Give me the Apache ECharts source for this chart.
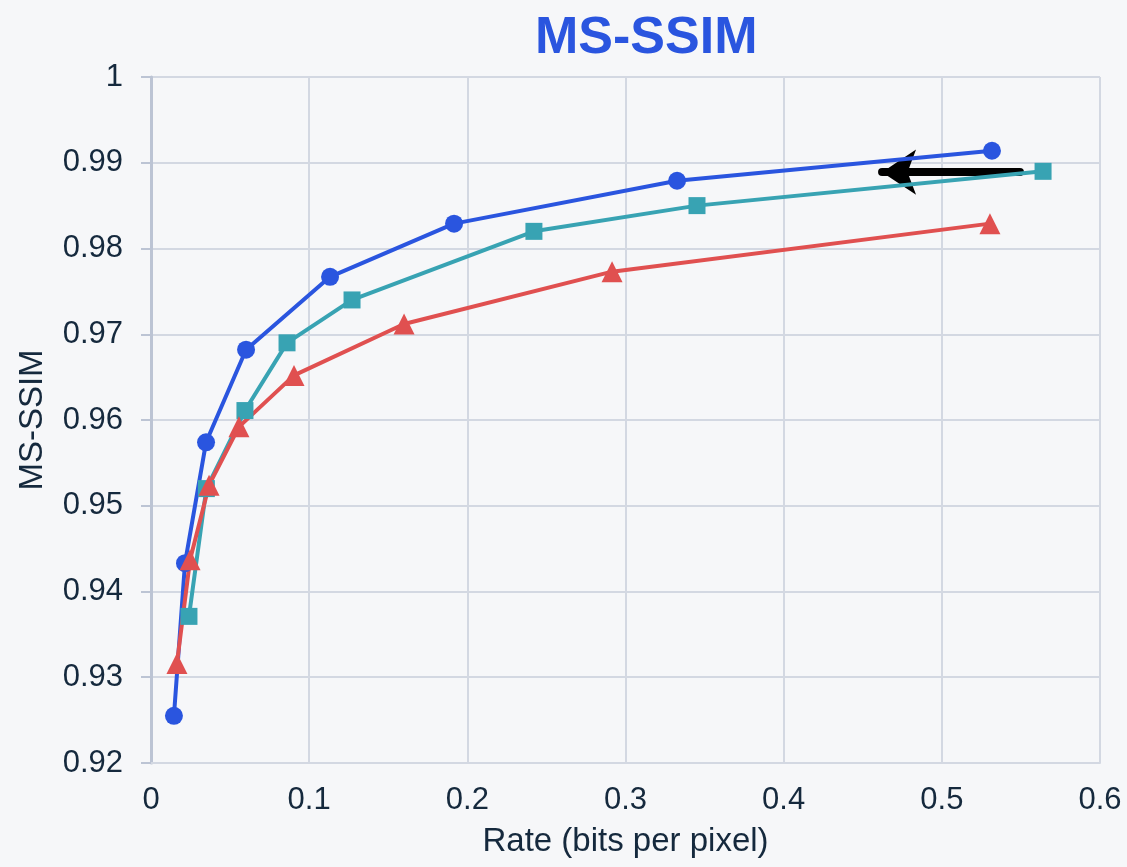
<!DOCTYPE html>
<html>
<head>
<meta charset="UTF-8">
<title>MS-SSIM</title>
<script src="https://cdn.jsdelivr.net/npm/echarts@6/dist/echarts.min.js"></script>
<style>
  html, body { margin: 0; padding: 0; background: #f6f7f9; }
  #chart { width: 1127px; height: 867px; }
</style>
</head>
<body>
<div id="chart"></div>
<script>
  // data
  const blueX = [0.0145, 0.0215, 0.0348, 0.0601, 0.1132, 0.1916, 0.3326, 0.5317];
  const blueY = [0.9255, 0.9433, 0.9574, 0.9682, 0.9767, 0.9829, 0.9879, 0.9914];
  const tealX = [0.0240, 0.0350, 0.0594, 0.0860, 0.1271, 0.2421, 0.3452, 0.5640];
  const tealY = [0.9371, 0.9520, 0.9611, 0.9690, 0.9740, 0.9820, 0.9850, 0.9890];
  const redX = [0.0164, 0.0247, 0.0367, 0.0556, 0.0904, 0.1600, 0.2915, 0.5304];
  const redY = [0.9316, 0.9437, 0.9524, 0.9592, 0.9652, 0.9712, 0.9773, 0.9829];
  const arrowFrom = [0.5494, 0.9889];
  const arrowTo = [0.4622, 0.9889];

  const zip = (xs, ys) => xs.map((x, i) => [x, ys[i]]);
  const textColor = '#15293d';

  const chart = echarts.init(document.getElementById('chart'));
  chart.setOption({
    backgroundColor: '#f6f7f9',
    animation: false,
    title: {
      text: 'MS-SSIM',
      left: 530,
      top: 8,
      textStyle: { color: '#2a55df', fontSize: 52, fontWeight: 'bold', fontFamily: 'Liberation Sans' }
    },
    grid: { left: 151, right: 27, top: 77, bottom: 104 },
    xAxis: {
      type: 'value',
      min: 0, max: 0.6, interval: 0.1,
      name: 'Rate (bits per pixel)',
      nameLocation: 'middle',
      nameGap: 62,
      nameTextStyle: { color: textColor, fontSize: 33, fontFamily: 'Liberation Sans' },
      axisLine: { show: true, lineStyle: { color: '#d3d8e2', width: 2 } },
      axisTick: { show: false },
      axisLabel: { color: textColor, fontSize: 31, margin: 22, fontFamily: 'Liberation Sans' },
      splitLine: { show: true, lineStyle: { color: '#d3d8e2', width: 2 } }
    },
    yAxis: {
      type: 'value',
      min: 0.92, max: 1, interval: 0.01,
      name: 'MS-SSIM',
      nameLocation: 'middle',
      nameGap: 102,
      nameTextStyle: { color: textColor, fontSize: 33, fontFamily: 'Liberation Sans' },
      axisLine: { show: true, lineStyle: { color: '#bcc4d4', width: 3 } },
      axisTick: { show: true, length: 10, lineStyle: { color: '#bcc4d4', width: 2 } },
      axisLabel: {
        color: textColor, fontSize: 31, margin: 28, fontFamily: 'Liberation Sans',
        formatter: v => String(Math.round(v * 100) / 100)
      },
      splitLine: { show: true, lineStyle: { color: '#d3d8e2', width: 2 } }
    },
    series: [
      {
        type: 'line', data: zip(blueX, blueY),
        symbol: 'circle', symbolSize: 18,
        lineStyle: { color: '#2a55df', width: 4 },
        itemStyle: { color: '#2a55df' }
      },
      {
        type: 'line', data: zip(tealX, tealY),
        symbol: 'rect', symbolSize: 17,
        lineStyle: { color: '#38a3b3', width: 4 },
        itemStyle: { color: '#38a3b3' }
      },
      {
        type: 'line', data: zip(redX, redY),
        symbol: 'triangle', symbolSize: 21,
        lineStyle: { color: '#e05050', width: 4 },
        itemStyle: { color: '#e05050' }
      },
      {
        type: 'lines', coordinateSystem: 'cartesian2d',
        symbol: ['none', 'arrow'], symbolSize: 34,
        lineStyle: { color: '#000', width: 8, opacity: 1, cap: 'round' },
        data: [{ coords: [arrowFrom, arrowTo] }]
      }
    ]
  });
</script>
</body>
</html>
